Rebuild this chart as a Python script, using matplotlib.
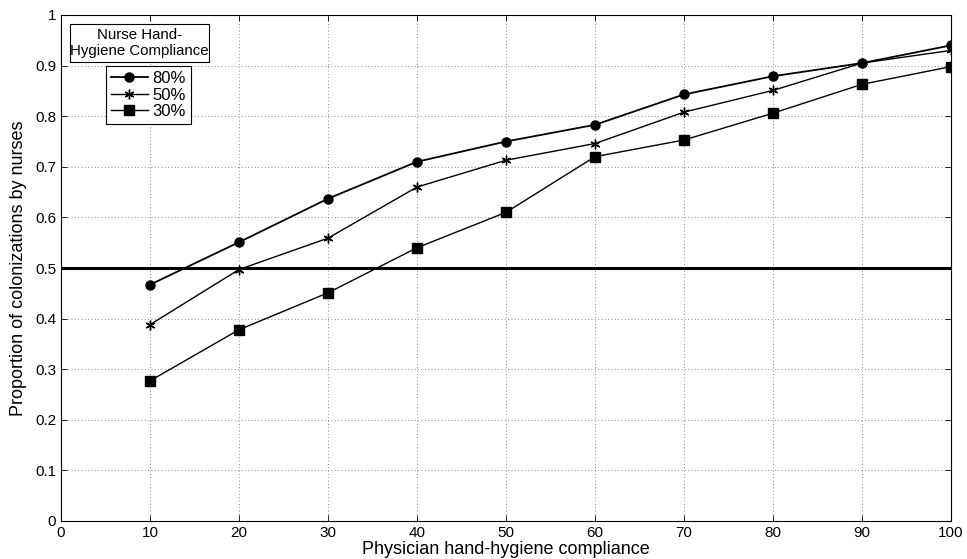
import matplotlib
matplotlib.use("Agg")
import matplotlib.pyplot as plt
from matplotlib.patches import Rectangle

plt.rcParams['font.family'] = ['Liberation Sans Narrow', 'Liberation Sans', 'DejaVu Sans']

# physician compliance (%) on the x axis
physician = [10, 20, 30, 40, 50, 60, 70, 80, 90, 100]

# proportion of colonizations by nurses, one series per nurse compliance level
nurse_80 = [0.467, 0.551, 0.637, 0.710, 0.750, 0.783, 0.843, 0.879, 0.905, 0.940]
nurse_50 = [0.388, 0.497, 0.559, 0.660, 0.713, 0.746, 0.808, 0.851, 0.905, 0.930]
nurse_30 = [0.277, 0.378, 0.451, 0.540, 0.610, 0.720, 0.753, 0.806, 0.863, 0.898]

series_labels = ['80%', '50%', '30%']
threshold = 0.5

x_ticks = list(range(0, 101, 10))
y_ticks = [i / 10 for i in range(11)]
y_tick_labels = ['0', '0.1', '0.2', '0.3', '0.4', '0.5', '0.6', '0.7', '0.8', '0.9', '1']

fig = plt.figure(figsize=(9.67, 5.59), dpi=100)
ax = fig.add_axes([61 / 967, 1 - 521 / 559, 890 / 967, 506 / 559])

ax.plot(physician, nurse_80, color='black', lw=1.3, marker='o', ms=6.5, label=series_labels[0])
ax.plot(physician, nurse_50, color='black', lw=1.0, marker=(6, 2, 0), ms=7, mew=1.0, label=series_labels[1])
ax.plot(physician, nurse_30, color='black', lw=1.0, marker='s', ms=6.5, label=series_labels[2])
ax.axhline(threshold, color='black', lw=2.2)

ax.set_xlim(0, 100)
ax.set_ylim(0, 1)
ax.set_xticks(x_ticks)
ax.set_yticks(y_ticks)
ax.set_yticklabels(y_tick_labels)
ax.tick_params(direction='in', length=4, width=0.6, labelsize=11, top=True, right=True,
               labeltop=False, labelright=False)
ax.grid(True, linestyle=(0, (1, 3)), color='#666666', lw=0.6)
for s in ax.spines.values():
    s.set_linewidth(0.8)

ax.set_xlabel('Physician hand-hygiene compliance', fontsize=13, labelpad=1)
ax.set_ylabel('Proportion of colonizations by nurses', fontsize=13, labelpad=6)

# legend title box drawn on its own above the legend
fig.patches.append(Rectangle((70 / 967, 1 - 62 / 559), 139 / 967, 38 / 559,
                             transform=fig.transFigure, facecolor='white',
                             edgecolor='black', lw=0.8, zorder=5))
fig.text(139.5 / 967, 1 - 43 / 559, 'Nurse Hand-\nHygiene Compliance', ha='center', va='center',
         fontsize=10.8, linespacing=1.15, zorder=6)

leg = ax.legend(loc='upper left', bbox_to_anchor=(106 / 967, 1 - 66 / 559),
                bbox_transform=fig.transFigure, fontsize=12, frameon=True, fancybox=False,
                edgecolor='black', framealpha=1, handlelength=2.2, handletextpad=0.3,
                borderpad=0.3, labelspacing=0.1, borderaxespad=0)
leg.get_frame().set_linewidth(0.8)

fig.savefig('out.png', dpi=100)
